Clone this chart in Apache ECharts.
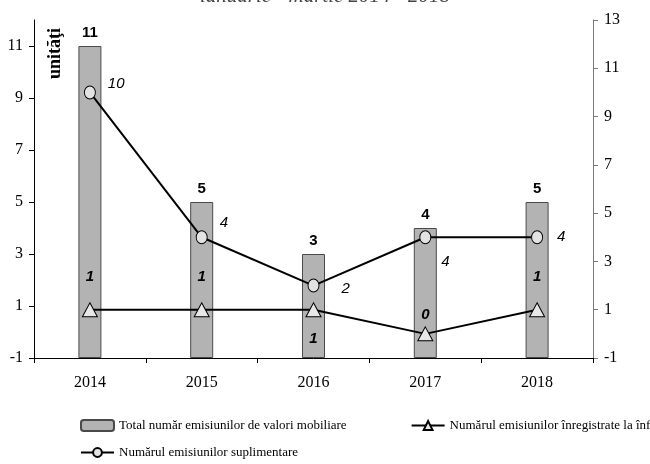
<!DOCTYPE html>
<html>
<head>
<meta charset="utf-8">
<script src="https://cdn.jsdelivr.net/npm/echarts@6/dist/echarts.min.js"></script>
<style>
  html, body { margin: 0; padding: 0; background: #fff; }
  #chart { width: 650px; height: 464px; }
</style>
</head>
<body>
<div id="chart"></div>
<script>
  // date
  var years = ['2014', '2015', '2016', '2017', '2018'];
  var totalEmisiuni = [11, 5, 3, 4, 5];
  var emisiuniInfiintare = [1, 1, 1, 0, 1];
  var emisiuniSuplimentare = [10, 4, 2, 4, 4];
  var leftTicks = [-1, 1, 3, 5, 7, 9, 11];

  var serif = 'Liberation Serif';
  var sans = 'Liberation Sans';

  // pozitia etichetelor pe fiecare punct
  var triLabelPos = ['top', 'top', 'bottom', 'top', 'top'];
  var triLabelDist = [18, 18, 14, 4, 18];
  var circLabelDist = [12, 12, 22, 10, 14];
  var circLabelOffset = [[0, -9], [0, -14], [0, 3], [0, 25], [0, 0]];

  var chart = echarts.init(document.getElementById('chart'));

  chart.setOption({
    backgroundColor: '#fff',
    animation: false,
    grid: { left: 34, right: 57, top: 20, bottom: 106 },
    graphic: [
      {
        type: 'text', left: 'center', top: -14,
        style: { text: 'ianuarie - martie 2014 - 2018', font: 'italic 21px "Liberation Serif"', fill: '#444' }
      },
      {
        type: 'text', x: 46, y: 79, rotation: Math.PI / 2,
        style: { text: 'unităţi', font: 'bold 18px "Liberation Serif"', fill: '#000' }
      }
    ],
    legend: [
      {
        data: ['Total număr emisiunilor de valori mobiliare', 'Numărul emisiunilor înregistrate la înfiinţare'],
        left: 75, top: 414, width: 900, itemWidth: 33, itemHeight: 11, itemGap: 64,
        textStyle: { fontFamily: serif, fontSize: 13, color: '#000' }
      },
      {
        data: ['Numărul emisiunilor suplimentare'],
        left: 75, top: 441, itemWidth: 33, itemHeight: 11,
        textStyle: { fontFamily: serif, fontSize: 13, color: '#000' }
      }
    ],
    xAxis: {
      type: 'category',
      data: years,
      axisLine: { onZero: false, lineStyle: { color: '#000', width: 1 } },
      axisTick: { show: true, length: 5, lineStyle: { color: '#000' } },
      axisLabel: { fontFamily: serif, fontSize: 16, color: '#000', margin: 17 },
      splitLine: { show: false }
    },
    yAxis: [
      {
        type: 'value', min: -1, max: 12, startValue: -1,
        axisLine: { show: true, lineStyle: { color: '#000' } },
        axisTick: { show: true, length: 5, customValues: leftTicks, lineStyle: { color: '#000' } },
        axisLabel: { customValues: leftTicks, fontFamily: serif, fontSize: 16, color: '#000', margin: 11 },
        splitLine: { show: false }
      },
      {
        type: 'value', min: -1, max: 13, interval: 2, position: 'right',
        axisLine: { show: true, lineStyle: { color: '#7a7a7a' } },
        axisTick: { show: true, length: 5, lineStyle: { color: '#7a7a7a' } },
        axisLabel: { fontFamily: serif, fontSize: 16, color: '#000', margin: 11 },
        splitLine: { show: false }
      }
    ],
    series: [
      {
        name: 'Total număr emisiunilor de valori mobiliare',
        type: 'bar',
        yAxisIndex: 0,
        barWidth: 23,
        data: totalEmisiuni,
        itemStyle: { color: '#b3b3b3', borderColor: '#4a4a4a', borderWidth: 1 },
        label: {
          show: true, position: 'top', distance: 6,
          fontFamily: sans, fontWeight: 'bold', fontSize: 15, color: '#000'
        },
        z: 1
      },
      {
        name: 'Numărul emisiunilor înregistrate la înfiinţare',
        type: 'line',
        yAxisIndex: 1,
        symbol: 'triangle',
        symbolSize: [15, 14],
        lineStyle: { color: '#000', width: 2 },
        itemStyle: { color: '#e8e8e8', borderColor: '#000', borderWidth: 1 },
        data: emisiuniInfiintare.map(function (v, i) {
          return { value: v, label: { position: triLabelPos[i], distance: triLabelDist[i] } };
        }),
        label: {
          show: true,
          fontFamily: sans, fontStyle: 'italic', fontWeight: 'bold', fontSize: 15, color: '#000'
        },
        z: 3
      },
      {
        name: 'Numărul emisiunilor suplimentare',
        type: 'line',
        yAxisIndex: 1,
        symbol: 'circle',
        symbolSize: [11, 13],
        lineStyle: { color: '#000', width: 2 },
        itemStyle: { color: '#e3e3e3', borderColor: '#000', borderWidth: 1 },
        data: emisiuniSuplimentare.map(function (v, i) {
          return { value: v, label: { distance: circLabelDist[i], offset: circLabelOffset[i] } };
        }),
        label: {
          show: true, position: 'right',
          fontFamily: sans, fontStyle: 'italic', fontSize: 15, color: '#000'
        },
        z: 4
      }
    ]
  });
</script>
</body>
</html>
